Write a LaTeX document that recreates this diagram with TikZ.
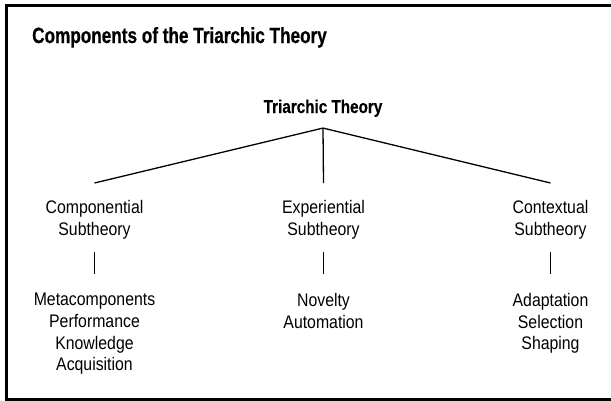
\documentclass[tikz,border=0pt]{standalone}
\usepackage{fontspec}
\newfontfamily\labelfont[FakeStretch=0.87]{Liberation Sans}
\newfontfamily\headfont[FakeStretch=0.78,FakeBold=0.6]{Liberation Sans Bold}
\newfontfamily\rootfont[FakeStretch=0.82,FakeBold=0.3]{Liberation Sans Bold}
\begin{document}
\begin{tikzpicture}[x=1pt,y=-1pt,
  frame/.style={line width=3pt},
  branch/.style={line width=1.3pt},
  heading/.style={font=\headfont\fontsize{22}{26}\selectfont, inner sep=0pt, anchor=base west},
  roottext/.style={font=\rootfont\fontsize{18.6}{22}\selectfont, inner sep=0pt, anchor=base},
  subtheory/.style={font=\labelfont\fontsize{18.2}{21.7}\selectfont, align=center, inner sep=0pt, anchor=north},
  leaf/.style={subtheory}]
\useasboundingbox (0,0) rectangle (611,400);
\clip (0,0) rectangle (611,400);

% outer frame (open to the right, cut by the page edge)
\draw[frame] (625,5.5) -- (6.5,5.5) -- (6.5,399.5) -- (625,399.5);

% headings
\node[heading] (title) at (32,43) {Components of the Triarchic Theory};
\node[roottext] (root) at (323,113) {Triarchic Theory};

% the three subtheories
\node[subtheory] (comp) at (94.5,200) {Componential\\Subtheory};
\node[subtheory] (expe) at (323.5,200) {Experiential\\Subtheory};
\node[subtheory] (cont) at (550.5,200) {Contextual\\Subtheory};

% their parts
\node[leaf] (compL) at (94.5,293) {Metacomponents\\Performance\\Knowledge\\Acquisition};
\node[leaf] (expeL) at (323.5,293) {Novelty\\Automation};
\node[leaf] (contL) at (550.5,293) {Adaptation\\Selection\\Shaping};

% tree branches
\coordinate (apex) at ([yshift=-11pt]root.south);
\draw[branch] (apex) -- ([yshift=17pt]comp.north);
\draw[branch] (apex) -- ([yshift=17pt]expe.north);
\draw[branch] (apex) -- ([yshift=17pt]cont.north);

\draw[branch] ([yshift=-13pt]comp.south) -- ([yshift=19pt]compL.north);
\draw[branch] ([yshift=-13pt]expe.south) -- ([yshift=19pt]expeL.north);
\draw[branch] ([yshift=-13pt]cont.south) -- ([yshift=19pt]contL.north);
\end{tikzpicture}
\end{document}
